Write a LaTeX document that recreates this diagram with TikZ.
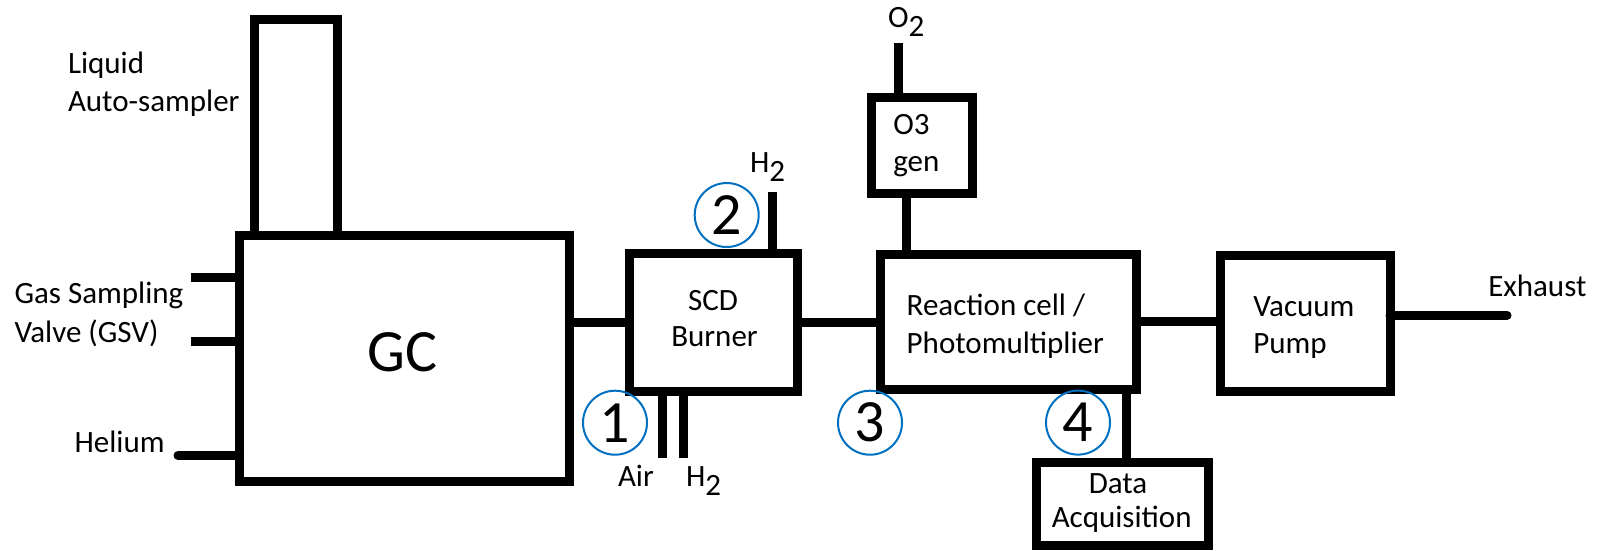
\documentclass[tikz,border=0pt]{standalone}
\usepackage{fontspec}
\setmainfont{Carlito}
\definecolor{numblue}{HTML}{0070C0}
\begin{document}
\begin{tikzpicture}[x=1pt,y=-1pt,
  box/.style={draw,line width=9pt,inner sep=0pt,outer sep=0pt,anchor=north west},
  pipe/.style={line width=9pt},
  lbl/.style={inner sep=0pt,outer sep=0pt,anchor=base west,font=\fontsize{31}{37}\selectfont},
  clbl/.style={lbl,anchor=base},
  num/.style={circle,draw=numblue,line width=2pt,minimum size=64pt,inner sep=0pt,font=\fontsize{60}{70}\selectfont}]
\fill[white] (0,0) rectangle (1602,550);
\useasboundingbox (0,0) rectangle (1602,550);

% boxes
\node[box,minimum width=83.7pt,minimum height=216.5pt] (auto) at (254,19) {};
\node[box,minimum width=329.9pt,minimum height=245.9pt] (gc) at (239.6,235.5) {};
\node[box,minimum width=168pt,minimum height=138pt] (scd) at (629.5,253) {};
\node[box,minimum width=100.3pt,minimum height=95.6pt] (o3) at (871.7,97.4) {};
\node[box,minimum width=256pt,minimum height=135pt] (rc) at (880,254) {};
\node[box,minimum width=172pt,minimum height=83pt] (da) at (1036,462) {};
\node[box,minimum width=170pt,minimum height=135.3pt] (vp) at (1220,255.7) {};

% texts
\node[lbl] (tliq) at (68,73.7) {Liquid};
\node[lbl] (tauto) at (68,111.5) {Auto-sampler};
\node[lbl] (tgas) at (14.5,303.4) {Gas Sampling};
\node[lbl] (tvalve) at (14.5,342) {Valve (GSV)};
\node[lbl] (thel) at (74.6,452.5) {Helium};
\node[clbl,font=\fontsize{60}{70}\selectfont] (tgc) at (402.8,371) {GC};
\node[clbl] (tscd) at (713,310) {SCD};
\node[clbl] (tburn) at (714.5,346) {Burner};
\node[lbl] (treac) at (906.7,315.7) {Reaction cell /};
\node[lbl] (tphot) at (906.7,353.6) {Photomultiplier};
\node[lbl] (to3) at (893.3,134.3) {O3};
\node[lbl] (tgen) at (893.3,171.9) {gen};
\node[lbl] (to2) at (888,27.4) {O\raisebox{-9.5pt}{2}};
\node[lbl] (th2t) at (750,172) {H\raisebox{-9.5pt}{2}};
\node[lbl] (tair) at (618,486) {Air};
\node[lbl] (th2b) at (686,486) {H\raisebox{-9.5pt}{2}};
\node[clbl] (tdata) at (1118,493) {Data};
\node[clbl] (tacq) at (1121.7,527) {Acquisition};
\node[lbl] (tvac) at (1253.3,316.7) {Vacuum};
\node[lbl] (tpump) at (1253.3,353.3) {Pump};
\node[lbl] (texh) at (1488.3,296.7) {Exhaust};

% numbered circles
\node[num] (n1) at (615,422.7) {1};
\node[num] (n2) at (726.7,215) {2};
\node[num] (n3) at (870,422.7) {3};
\node[num] (n4) at (1078,422.6) {4};

% free ends
\coordinate (gsv1) at (190.6,277.2);
\coordinate (gsv2) at (190.6,341.5);
\coordinate (he) at (178,455.5);
\coordinate (h2t) at (772,192);
\coordinate (air) at (662,458);
\coordinate (h2b) at (683.5,458);
\coordinate (o2) at (898,42.8);
\coordinate (o3rc) at (906,0);
\coordinate (rcda) at (1126,0);
\coordinate (exh) at (1507,315.3);

% connectors
\draw[pipe] (gsv1) -- (gsv1 -| gc.west);
\draw[pipe] (gsv2) -- (gsv2 -| gc.west);
\draw[pipe,line cap=round] (he) -- (he -| gc.west);
\draw[pipe] (scd.west) -- (scd.west -| gc.east);
\draw[pipe] (scd.east) -- (scd.east -| rc.west);
\draw[pipe] (h2t) -- (h2t |- scd.north);
\draw[pipe] (air) -- (air |- scd.south);
\draw[pipe] (h2b) -- (h2b |- scd.south);
\draw[pipe] (o2) -- (o2 |- o3.north);
\draw[pipe] (o3.south -| o3rc) -- (rc.north -| o3rc);
\draw[pipe] (rc.south -| rcda) -- (da.north -| rcda);
\draw[pipe] (rc.east) -- (rc.east -| vp.west);
\draw[pipe,line cap=round] (exh) -- (exh -| vp.east);
\end{tikzpicture}
\end{document}
